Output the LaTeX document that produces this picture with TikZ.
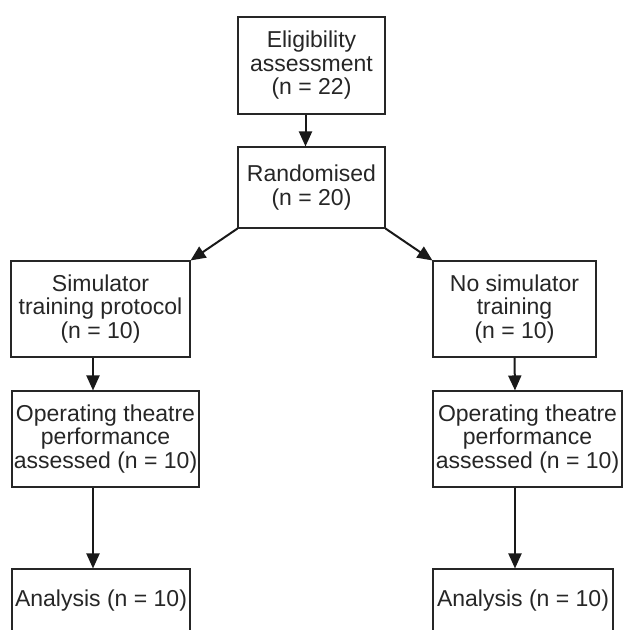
\documentclass[tikz,border=0pt]{standalone}
\usepackage{fontspec}
\setmainfont{Liberation Sans}
\usetikzlibrary{arrows.meta}

\begin{document}
\begin{tikzpicture}[x=1pt, y=-1pt,
  box/.style={draw=black!85, line width=1.1pt, inner sep=0pt, align=center,
    text=black!85, font=\fontsize{23}{23.5}\selectfont},
  arr/.style={draw=black!90, line width=2pt, -{Triangle[length=15pt, width=13pt]}}]

  \clip (0,0) rectangle (624,630);

  % boxes
  \node[box, minimum width=147pt, minimum height=97pt] (elig) at (311.5,65.5) {Eligibility\\assessment\\(n = 22)};
  \node[box, minimum width=147pt, minimum height=81pt] (rand) at (311.5,187.5) {Randomised\\(n = 20)};
  \node[box, minimum width=179pt, minimum height=96pt] (sim) at (100.5,309) {Simulator\\training protocol\\(n = 10)};
  \node[box, minimum width=163pt, minimum height=96pt] (nosim) at (514.5,309) {No simulator\\training\\(n = 10)};
  \node[box, minimum width=187pt, minimum height=96pt] (opL) at (105.5,439) {Operating theatre\\performance\\assessed (n = 10)};
  \node[box, minimum width=189pt, minimum height=96pt] (opR) at (527.5,439) {Operating theatre\\performance\\assessed (n = 10)};
  \node[box, minimum width=178pt, minimum height=64pt] (anL) at (101,601) {Analysis (n = 10)};
  \node[box, minimum width=180pt, minimum height=64pt] (anR) at (523,601) {Analysis (n = 10)};

  % arrows
  \draw[arr] ([xshift=-6pt]elig.south) -- ([xshift=-6pt]rand.north);
  \draw[arr] (rand.south west) -- (sim.north east);
  \draw[arr] (rand.south east) -- (nosim.north west);
  \draw[arr] ([xshift=-7.5pt]sim.south) -- ([xshift=-12.5pt]opL.north);
  \draw[arr] ([xshift=-12.5pt]opL.south) -- ([xshift=-8pt]anL.north);
  \draw[arr] (nosim.south) -- ([xshift=-12.5pt]opR.north);
  \draw[arr] ([xshift=-12.5pt]opR.south) -- ([xshift=-8pt]anR.north);
\end{tikzpicture}
\end{document}
